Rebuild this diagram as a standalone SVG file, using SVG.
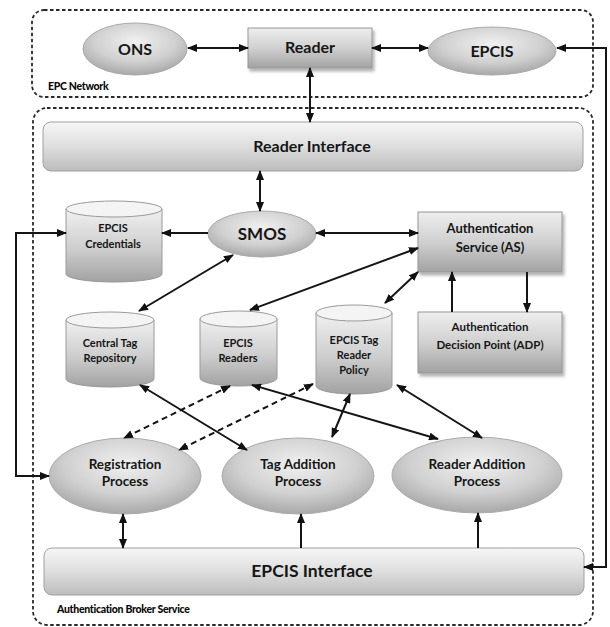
<svg xmlns="http://www.w3.org/2000/svg" width="610" height="627" viewBox="0 0 610 627">
<style>
.t{font-family:Lato,"Open Sans","Liberation Sans",sans-serif;font-weight:700;fill:#161616;text-anchor:middle}
.lbl{font-family:Lato,"Open Sans","Liberation Sans",sans-serif;font-weight:900;fill:#0a0a0a;font-size:10.5px;letter-spacing:-0.3px}
.grp{fill:none;stroke:#2a2a2a;stroke-width:1.8;stroke-dasharray:3.5,2.5}
.ell{fill:url(#gEll);stroke:#aaaaaa;stroke-width:1}
.box{fill:url(#gBox);stroke:#959595;stroke-width:1;filter:url(#sh)}
.bar{fill:url(#gBar);stroke:#a0a0a0;stroke-width:1}
.cyl{fill:url(#gCyl);stroke:#9a9a9a;stroke-width:1}
.cylTop{fill:#f4f4f4;stroke:#9a9a9a;stroke-width:1}
.c{fill:none;stroke:#151515;stroke-width:2}
.d{stroke-dasharray:6,4}
</style>
<defs>
<radialGradient id="gEll" cx="50%" cy="35%" r="65%">
<stop offset="0" stop-color="#f0f0f0"/>
<stop offset="0.6" stop-color="#d0d0d0"/>
<stop offset="1" stop-color="#a8a8a8"/>
</radialGradient>
<linearGradient id="gBox" x1="0" y1="0" x2="0" y2="1">
<stop offset="0" stop-color="#eeeeee"/>
<stop offset="0.5" stop-color="#d0d0d0"/>
<stop offset="1" stop-color="#a2a2a2"/>
</linearGradient>
<linearGradient id="gBar" x1="0" y1="0" x2="0" y2="1">
<stop offset="0" stop-color="#f6f6f6"/>
<stop offset="0.5" stop-color="#dedede"/>
<stop offset="1" stop-color="#bcbcbc"/>
</linearGradient>
<linearGradient id="gCyl" x1="0" y1="0" x2="0" y2="1">
<stop offset="0" stop-color="#f0f0f0"/>
<stop offset="0.55" stop-color="#cdcdcd"/>
<stop offset="1" stop-color="#a2a2a2"/>
</linearGradient>
<filter id="sh" x="-10%" y="-10%" width="125%" height="130%">
<feDropShadow dx="2" dy="3" stdDeviation="1.5" flood-color="#000" flood-opacity="0.3"/>
</filter>
<marker id="ah" viewBox="0 0 10 8" refX="9" refY="4" markerWidth="10" markerHeight="8" markerUnits="userSpaceOnUse" orient="auto-start-reverse">
<path d="M0,0 L10,4 L0,8 z" fill="#111"/>
</marker>
</defs>

<g id="epc-network">
<rect class="grp" x="32" y="10" width="561" height="87" rx="12"/>
<text class="lbl" x="48" y="90">EPC Network</text>
</g>
<g id="auth-broker-service">
<rect class="grp" x="33" y="108" width="560" height="517" rx="14"/>
<text class="lbl" x="57" y="613">Authentication Broker Service</text>
</g>

<g id="ons">
<ellipse class="ell" cx="135" cy="49" rx="52" ry="26"/>
<text class="t" x="135" y="55" font-size="16">ONS</text>
</g>
<g id="reader">
<rect class="box" x="248" y="28" width="124" height="40"/>
<text class="t" x="310" y="53" font-size="16">Reader</text>
</g>
<g id="epcis">
<ellipse class="ell" cx="492" cy="51" rx="64" ry="24"/>
<text class="t" x="492" y="57" font-size="16">EPCIS</text>
</g>

<g id="reader-interface">
<rect class="bar" x="43" y="122" width="540" height="49" rx="8"/>
<text class="t" x="312" y="152" font-size="16">Reader Interface</text>
</g>

<g id="epcis-credentials">
<path class="cyl" d="M66,209 L66,274 A48,8 0 0 0 162,274 L162,209 Z"/>
<ellipse class="cylTop" cx="114" cy="209" rx="48" ry="8"/>
<text class="t" x="113" y="232" font-size="11">EPCIS</text>
<text class="t" x="113" y="248" font-size="11">Credentials</text>
</g>
<g id="smos">
<ellipse class="ell" cx="262" cy="234" rx="54" ry="23"/>
<text class="t" x="262" y="240" font-size="17">SMOS</text>
</g>
<g id="authentication-service">
<rect class="box" x="418" y="212" width="144" height="60"/>
<text class="t" x="490" y="233" font-size="13">Authentication</text>
<text class="t" x="490" y="252" font-size="13">Service (AS)</text>
</g>
<g id="adp">
<rect class="box" x="418" y="312" width="144" height="61"/>
<text class="t" x="490" y="331" font-size="11.5">Authentication</text>
<text class="t" x="490" y="349" font-size="11.5">Decision Point (ADP)</text>
</g>

<g id="central-tag-repository">
<path class="cyl" d="M66,320 L66,379 A44,8 0 0 0 154,379 L154,320 Z"/>
<ellipse class="cylTop" cx="110" cy="320" rx="44" ry="8"/>
<text class="t" x="110" y="347" font-size="11">Central Tag</text>
<text class="t" x="110" y="362" font-size="11">Repository</text>
</g>
<g id="epcis-readers">
<path class="cyl" d="M200,319 L200,378 A38.5,8 0 0 0 277,378 L277,319 Z"/>
<ellipse class="cylTop" cx="238.5" cy="319" rx="38.5" ry="8"/>
<text class="t" x="238" y="347" font-size="11">EPCIS</text>
<text class="t" x="238" y="362" font-size="11">Readers</text>
</g>
<g id="epcis-tag-reader-policy">
<path class="cyl" d="M316,313 L316,386 A38,8 0 0 0 392,386 L392,313 Z"/>
<ellipse class="cylTop" cx="354" cy="313" rx="38" ry="8"/>
<text class="t" x="354" y="344" font-size="11">EPCIS Tag</text>
<text class="t" x="354" y="359" font-size="11">Reader</text>
<text class="t" x="354" y="374" font-size="11">Policy</text>
</g>

<g id="registration-process">
<ellipse class="ell" cx="125" cy="476" rx="76" ry="38"/>
<text class="t" x="125" y="469" font-size="13.5">Registration</text>
<text class="t" x="125" y="486" font-size="13.5">Process</text>
</g>
<g id="tag-addition-process">
<ellipse class="ell" cx="298" cy="476" rx="76" ry="38"/>
<text class="t" x="298" y="469" font-size="13.5">Tag Addition</text>
<text class="t" x="298" y="486" font-size="13.5">Process</text>
</g>
<g id="reader-addition-process">
<ellipse class="ell" cx="477" cy="475" rx="85" ry="38"/>
<text class="t" x="477" y="469" font-size="13.5">Reader Addition</text>
<text class="t" x="477" y="486" font-size="13.5">Process</text>
</g>

<g id="epcis-interface">
<rect class="bar" x="44" y="548" width="540" height="47" rx="8"/>
<text class="t" x="312" y="577" font-size="17.5">EPCIS Interface</text>
</g>

<g id="connectors">
<path class="c" d="M188,48 L248,48" marker-start="url(#ah)" marker-end="url(#ah)"/>
<path class="c" d="M372,48 L428,48" marker-start="url(#ah)" marker-end="url(#ah)"/>
<path class="c" d="M310,68 L310,122" marker-start="url(#ah)" marker-end="url(#ah)"/>
<path class="c" d="M584,567 L606,567 L606,48 L557,48" marker-start="url(#ah)" marker-end="url(#ah)"/>
<path class="c" d="M260,171 L260,211" marker-start="url(#ah)" marker-end="url(#ah)"/>
<path class="c" d="M208,233 L162,233" marker-end="url(#ah)"/>
<path class="c" d="M66,233 L16,233 L16,476 L49,476" marker-start="url(#ah)" marker-end="url(#ah)"/>
<path class="c" d="M316,233 L418,233" marker-start="url(#ah)" marker-end="url(#ah)"/>
<path class="c" d="M233,255 L139,311" marker-start="url(#ah)" marker-end="url(#ah)"/>
<path class="c" d="M418,248 L250,310" marker-start="url(#ah)" marker-end="url(#ah)"/>
<path class="c" d="M418,272 L385,303" marker-start="url(#ah)" marker-end="url(#ah)"/>
<path class="c" d="M452,312 L452,272" marker-end="url(#ah)"/>
<path class="c" d="M527,272 L527,312" marker-end="url(#ah)"/>
<path class="c" d="M140,385 L247,450" marker-start="url(#ah)" marker-end="url(#ah)"/>
<path class="c d" d="M230,386 L124,438" marker-start="url(#ah)" marker-end="url(#ah)"/>
<path class="c d" d="M313,384 L179,450" marker-start="url(#ah)" marker-end="url(#ah)"/>
<path class="c" d="M252,385 L438,439" marker-start="url(#ah)" marker-end="url(#ah)"/>
<path class="c" d="M350,394 L332,437" marker-start="url(#ah)" marker-end="url(#ah)"/>
<path class="c" d="M397,385 L482,438" marker-start="url(#ah)" marker-end="url(#ah)"/>
<path class="c" d="M123,514 L123,548" marker-start="url(#ah)" marker-end="url(#ah)"/>
<path class="c" d="M301,548 L301,514" marker-end="url(#ah)"/>
<path class="c" d="M478,548 L478,513" marker-end="url(#ah)"/>
</g>
</svg>
